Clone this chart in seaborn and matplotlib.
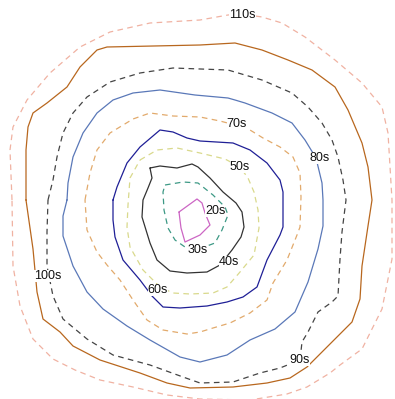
import matplotlib
matplotlib.use("Agg")
import matplotlib.pyplot as plt
import pandas as pd
import seaborn as sns

# Isochrone outlines (x, y in map units, y grows downward), one closed ring per travel time
ring_20s = [(179, 212), (197, 199), (202, 203), (205, 213), (210, 225), (200, 235),
            (185, 242), (181, 228), (179, 212)]
ring_30s = [(165, 185), (183, 182), (198, 183), (213, 195), (225, 207), (228, 215),
            (222, 230), (215, 243), (207, 246), (195, 248), (185, 247), (175, 240),
            (168, 228), (164, 210), (163, 192), (165, 185)]
ring_40s = [(150, 168), (160, 166), (177, 168), (192, 164), (198, 167), (210, 178),
            (223, 192), (236, 203), (242, 212), (244, 227), (241, 237), (232, 250),
            (220, 265), (207, 272), (187, 273), (170, 271), (157, 260), (150, 243),
            (142, 217), (143, 200), (148, 188), (152, 178), (150, 168)]
ring_50s = [(140, 160), (157, 150), (177, 148), (200, 153), (225, 159), (240, 167),
            (248, 178), (254, 192), (258, 210), (259, 228), (254, 255), (240, 272),
            (227, 287), (213, 293), (190, 294), (173, 293), (160, 287), (143, 270),
            (130, 247), (127, 227), (128, 205), (130, 178), (140, 160)]
ring_60s = [(113, 200), (117, 187), (127, 163), (140, 147), (160, 130), (173, 132),
            (187, 138), (200, 141), (233, 143), (250, 150), (267, 163), (280, 180),
            (283, 192), (283, 227), (280, 235), (267, 260), (257, 287), (243, 297),
            (227, 302), (207, 306), (180, 308), (163, 307), (152, 296), (140, 280),
            (123, 260), (115, 237), (113, 220), (113, 200)]
ring_70s = [(85, 200), (90, 173), (97, 150), (110, 133), (133, 119), (150, 113),
            (173, 116), (200, 117), (220, 121), (235, 125), (250, 130), (263, 138),
            (280, 147), (293, 157), (300, 173), (301, 197), (300, 227), (297, 235),
            (287, 260), (273, 283), (267, 300), (250, 313), (230, 323), (213, 328),
            (200, 332), (187, 334), (163, 330), (147, 320), (133, 300), (120, 280),
            (107, 265), (97, 252), (87, 230), (85, 200)]
ring_80s = [(67, 200), (68, 183), (73, 157), (83, 133), (97, 113), (113, 100),
            (133, 93), (160, 90), (195, 95), (228, 98), (235, 100), (245, 103),
            (272, 113), (292, 123), (305, 140), (316, 158), (322, 183), (323, 200),
            (323, 226), (318, 249), (308, 282), (295, 312), (275, 329), (250, 340),
            (227, 355), (200, 362), (180, 357), (150, 340), (127, 326),
            (103, 309), (87, 292), (73, 266), (63, 236), (63, 216), (67, 200)]
ring_90s = [(48, 200), (53, 180), (57, 157), (63, 133), (73, 113), (87, 97),
            (110, 82), (140, 73), (173, 68), (228, 70), (262, 80), (292, 93),
            (308, 107), (322, 123), (332, 140), (338, 157), (343, 180), (346, 200),
            (342, 232), (340, 259), (338, 296), (332, 302), (318, 312), (308, 332),
            (302, 342), (300, 360), (280, 368), (260, 373), (233, 382), (200, 383),
            (183, 377), (150, 365), (113, 355), (87, 339), (63, 319), (53, 296),
            (47, 266), (47, 232), (48, 200)]
ring_100s = [(26, 200), (26, 150), (28, 127), (33, 113), (47, 103), (67, 87),
             (80, 67), (97, 50), (107, 47), (200, 45), (235, 43), (262, 50),
             (288, 60), (312, 70), (335, 87), (348, 110), (362, 143), (368, 167),
             (372, 200), (368, 226), (362, 266), (360, 299), (352, 322), (335, 339),
             (327, 347), (307, 367), (290, 378), (267, 383), (233, 387), (190, 388),
             (167, 383), (140, 373), (100, 360), (73, 346), (60, 332),
             (43, 319), (37, 292), (33, 249), (26, 200)]
ring_110s = [(12, 200), (10, 150), (13, 127), (27, 100), (50, 73), (80, 47),
             (110, 32), (150, 23), (200, 20), (228, 15), (242, 14), (262, 17),
             (282, 23), (305, 37), (335, 60), (362, 83), (382, 107), (388, 133),
             (392, 200), (392, 259), (382, 309), (362, 349), (340, 365), (330, 373),
             (307, 387), (287, 394), (250, 400), (200, 399), (167, 395), (133, 387),
             (100, 380), (75, 370), (53, 359), (33, 339), (20, 306), (13, 266),
             (12, 200)]

levels = ["20s", "30s", "40s", "50s", "60s", "70s", "80s", "90s", "100s", "110s"]
rings = [ring_20s, ring_30s, ring_40s, ring_50s, ring_60s,
         ring_70s, ring_80s, ring_90s, ring_100s, ring_110s]

# Label anchor for each isochrone
label_pos = {"20s": (215, 211), "30s": (198, 250), "40s": (229, 262),
             "50s": (240, 167), "60s": (158, 290), "70s": (237, 124),
             "80s": (320, 158), "90s": (300, 360), "100s": (48, 276),
             "110s": (242, 15)}

# Line styling per isochrone
colors = {"20s": "#cc66c4", "30s": "#3d9985", "40s": "#333333", "50s": "#d9d98c",
          "60s": "#1f1f96", "70s": "#e2aa6c", "80s": "#5a78b8", "90s": "#444444",
          "100s": "#b8671e", "110s": "#f0b2a2"}
dashed = {"20s": False, "30s": True, "40s": False, "50s": True, "60s": False,
          "70s": True, "80s": False, "90s": True, "100s": False, "110s": True}

frames = []
for lvl, ring in zip(levels, rings):
    df = pd.DataFrame(ring, columns=["x", "y"])
    df["level"] = lvl
    df["order"] = range(len(df))
    frames.append(df)
data = pd.concat(frames, ignore_index=True)

sns.set_theme(style="white")
plt.rcParams["font.family"] = ["Liberation Sans", "DejaVu Sans"]

fig = plt.figure(figsize=(3.95, 3.99), dpi=100)
ax = fig.add_axes([0, 0, 1, 1])

for lvl in levels:
    sub = data[data["level"] == lvl]
    sns.lineplot(data=sub, x="x", y="y", sort=False, estimator=None,
                 color=colors[lvl], linewidth=0.9, ax=ax,
                 dashes=False, legend=False)
    line = ax.lines[-1]
    line.set_solid_joinstyle("round")
    line.set_dash_joinstyle("round")
    if dashed[lvl]:
        line.set_dashes((4.5, 3.5))
    lx, ly = label_pos[lvl]
    ax.text(lx, ly, lvl, fontsize=9, color="#111111", ha="center", va="center",
            bbox=dict(facecolor="white", edgecolor="none", pad=0.2), zorder=5)

ax.set_xlim(0, 395)
ax.set_ylim(399, 0)
ax.set_axis_off()

fig.savefig("out.png", dpi=100, facecolor="white")
